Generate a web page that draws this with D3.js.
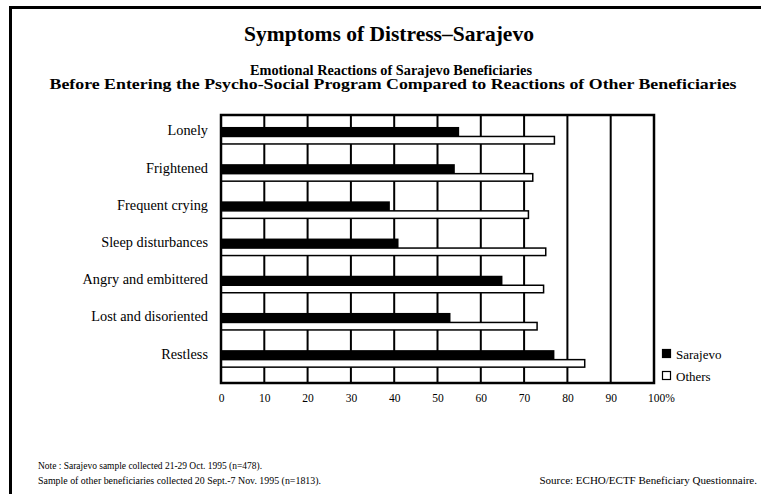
<!DOCTYPE html>
<html>
<head>
<meta charset="utf-8">
<script src="https://cdn.jsdelivr.net/npm/d3@7"></script>
<style>
  body { margin: 0; background: #fff; }
  svg { display: block; font-family: "Liberation Serif", "DejaVu Serif", serif; }
</style>
</head>
<body>
<svg id="chart" width="761" height="494"></svg>
<script>
const categories = ["Lonely", "Frightened", "Frequent crying", "Sleep disturbances",
    "Angry and embittered", "Lost and disoriented", "Restless"];
const sarajevo = [55, 54, 39, 41, 65, 53, 77];
const others = [77, 72, 71, 75, 74.5, 73, 84];
const ticks = [0, 10, 20, 30, 40, 50, 60, 70, 80, 90, 100];
const seriesNames = ["Sarajevo", "Others"];

const svg = d3.select("#chart");

// outer border (top + left only, like the scan)
svg.append("line").attr("x1", 10).attr("x2", 761).attr("y1", 7.5).attr("y2", 7.5)
    .attr("stroke", "black").attr("stroke-width", 3);
svg.append("line").attr("x1", 10.5).attr("x2", 10.5).attr("y1", 6).attr("y2", 494)
    .attr("stroke", "black").attr("stroke-width", 3);

// titles
svg.append("text").attr("x", 389).attr("y", 41).attr("text-anchor", "middle")
    .attr("font-size", 21.5).attr("font-weight", "bold")
    .text("Symptoms of Distress\u2013Sarajevo");
svg.append("text").attr("x", 391).attr("y", 75).attr("text-anchor", "middle")
    .attr("font-size", 14).attr("font-weight", "bold")
    .attr("textLength", 282).attr("lengthAdjust", "spacingAndGlyphs")
    .text("Emotional Reactions of Sarajevo Beneficiaries");
svg.append("text").attr("x", 393).attr("y", 89).attr("text-anchor", "middle")
    .attr("font-size", 14).attr("font-weight", "bold")
    .attr("textLength", 687).attr("lengthAdjust", "spacingAndGlyphs")
    .text("Before Entering the Psycho-Social Program Compared to Reactions of Other Beneficiaries");

const x = d3.scaleLinear().domain([0, 100]).range([221, 654]);
const y = d3.scaleBand().domain(categories).range([115, 383])
    .paddingInner(0.543).paddingOuter(0.374).align(0.43);

// vertical grid lines
svg.append("g").selectAll("line").data(ticks.slice(1, -1)).join("line")
    .attr("x1", d => x(d)).attr("x2", d => x(d))
    .attr("y1", 115).attr("y2", 383)
    .attr("stroke", "black").attr("stroke-width", 2);

// Others bars (white, outlined)
svg.append("g").selectAll("rect").data(categories).join("rect")
    .attr("x", x(0)).attr("y", d => y(d) + 9.5)
    .attr("width", (d, i) => x(others[i]) - x(0)).attr("height", 7.5)
    .attr("fill", "white").attr("stroke", "black").attr("stroke-width", 1.5);

// Sarajevo bars (black)
svg.append("g").selectAll("rect").data(categories).join("rect")
    .attr("x", x(0)).attr("y", d => y(d))
    .attr("width", (d, i) => x(sarajevo[i]) - x(0)).attr("height", 9.5)
    .attr("fill", "black");

// plot frame
svg.append("rect").attr("x", 221).attr("y", 115).attr("width", 433).attr("height", 268)
    .attr("fill", "none").attr("stroke", "black").attr("stroke-width", 2.5);

// category labels
svg.append("g").selectAll("text").data(categories).join("text")
    .attr("x", 208).attr("y", d => y(d) + 8.5)
    .attr("text-anchor", "end").attr("font-size", 14.3)
    .text(d => d);

// x axis
const axis = svg.append("g").attr("transform", "translate(0,391)")
    .call(d3.axisBottom(x).tickValues(ticks).tickSize(0)
        .tickFormat(d => d === 100 ? "100%" : d));
axis.select(".domain").remove();
axis.selectAll("text").attr("font-family", "Liberation Serif, serif")
    .attr("font-size", 11.5).attr("fill", "black");
axis.selectAll(".tick").filter(d => d === 100).select("text").attr("dx", 7);

// legend
const legend = svg.append("g").selectAll("g").data(seriesNames).join("g")
    .attr("transform", (d, i) => `translate(662,${354 + i * 22})`);
legend.append("rect").attr("x", 0.5).attr("y", -4.5).attr("width", 8).attr("height", 8)
    .attr("fill", (d, i) => i === 0 ? "black" : "white")
    .attr("stroke", "black").attr("stroke-width", 1.2);
legend.append("text").attr("x", 14).attr("y", 4.5).attr("font-size", 13).text(d => d);

// notes
svg.append("text").attr("x", 38).attr("y", 469).attr("font-size", 9.5)
    .attr("textLength", 224).attr("lengthAdjust", "spacingAndGlyphs")
    .text("Note : Sarajevo sample collected 21-29 Oct. 1995 (n=478).");
svg.append("text").attr("x", 38).attr("y", 484).attr("font-size", 10)
    .attr("textLength", 283).attr("lengthAdjust", "spacingAndGlyphs")
    .text("Sample of other beneficiaries collected 20 Sept.-7 Nov. 1995 (n=1813).");
svg.append("text").attr("x", 757).attr("y", 484).attr("text-anchor", "end").attr("font-size", 11)
    .text("Source: ECHO/ECTF Beneficiary Questionnaire.");
</script>
</body>
</html>
